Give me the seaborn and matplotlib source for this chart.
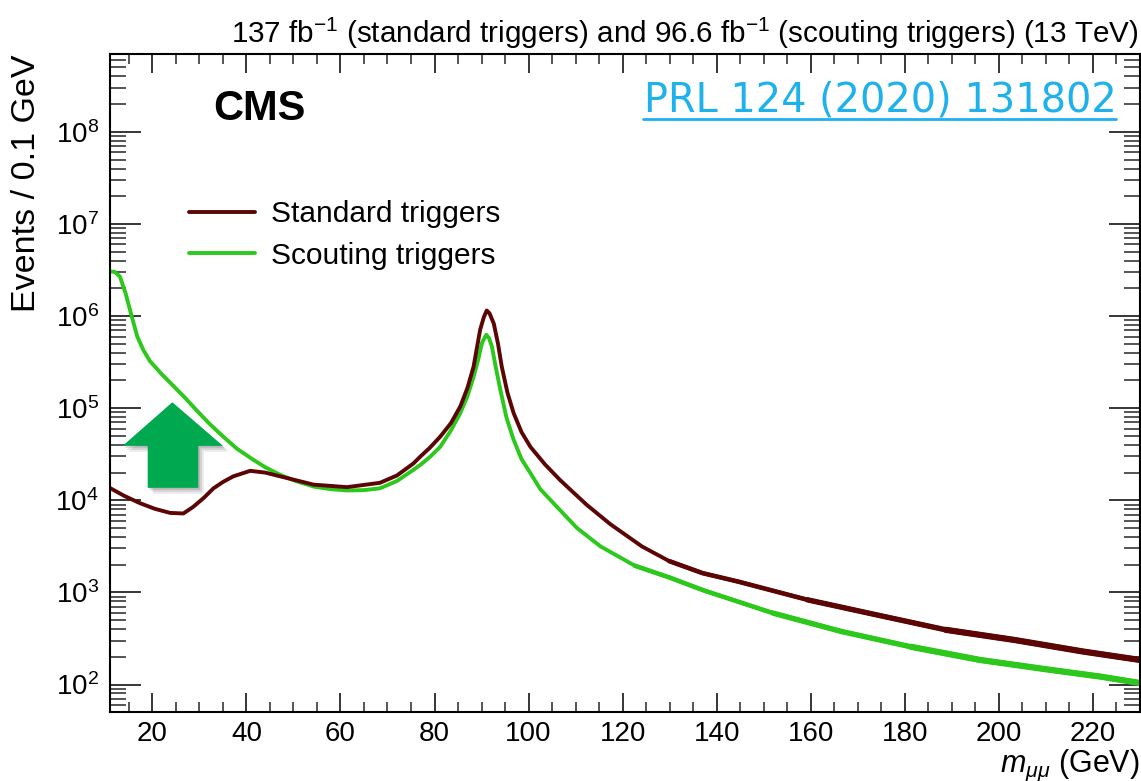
import numpy as np
import pandas as pd
import matplotlib
matplotlib.use("Agg")
import matplotlib.pyplot as plt
import seaborn as sns
from matplotlib.ticker import MultipleLocator, FixedLocator, LogLocator, FuncFormatter, NullFormatter
from matplotlib.patches import Polygon
from matplotlib.lines import Line2D

# ---------------- data ----------------
mass_std = [11, 14, 17.4, 20.5, 23.8, 26.6, 28.7, 31, 33, 35, 37.2, 40.8, 44, 47.2,
            54.3, 61.4, 68.4, 72, 75.5, 77, 79, 81.2, 83.5, 85.5, 87, 88.3, 89.7,
            90.5, 91.1, 91.7, 92.6, 93.5, 94.3, 95.5, 96.8, 98.5, 100.4, 103.5, 106.7,
            109.5, 112.4, 117.4, 124.1, 129.9, 137, 144.6, 159.3, 174, 188.7, 203.3,
            218, 230]
events_std = [1.36e4, 1.12e4, 9.3e3, 8.1e3, 7.3e3, 7.2e3, 8.5e3, 1.07e4, 1.35e4, 1.58e4,
              1.82e4, 2.09e4, 2.0e4, 1.82e4, 1.48e4, 1.39e4, 1.55e4, 1.86e4, 2.51e4,
              2.99e4, 3.72e4, 4.9e4, 6.9e4, 1.05e5, 1.66e5, 2.82e5, 7.1e5, 9.8e5,
              1.15e6, 1.07e6, 8.3e5, 5.0e5, 2.82e5, 1.48e5, 8.9e4, 5.5e4, 3.8e4, 2.45e4,
              1.66e4, 1.22e4, 8.9e3, 5.5e3, 3.16e3, 2.19e3, 1.62e3, 1.31e3, 832, 571,
              393, 305, 228, 185]

mass_sct = [11, 12, 13.1, 14.3, 15.6, 16.8, 18.1, 19.5, 22, 24.5, 27, 29.4, 32, 35.1,
            38, 41.5, 44, 47.2, 50.5, 54.3, 58, 61.4, 65, 68.4, 72, 75.5, 77, 79,
            81.2, 83.5, 85.5, 87, 88.3, 89.3, 90.1, 91, 91.6, 92.2, 93, 94, 95.3,
            96.8, 98.5, 100.4, 102.5, 105.3, 110.3, 115.3, 122.6, 130, 137.3, 152,
            166.6, 181.3, 196, 210.7, 221.6, 230]
events_sct = [3.05e6, 3.02e6, 2.69e6, 1.78e6, 1.0e6, 6.0e5, 4.27e5, 3.24e5, 2.34e5,
              1.74e5, 1.29e5, 9.5e4, 6.9e4, 4.9e4, 3.63e4, 2.75e4, 2.29e4, 1.89e4,
              1.62e4, 1.41e4, 1.32e4, 1.28e4, 1.29e4, 1.35e4, 1.62e4, 2.14e4,
              2.43e4, 2.95e4, 3.8e4, 5.75e4, 8.9e4, 1.35e5, 2.19e5, 3.39e5, 5.13e5,
              6.27e5, 5.75e5, 4.68e5, 2.82e5, 1.58e5, 7.9e4, 4.57e4, 2.8e4, 1.97e4,
              1.32e4, 9.3e3, 5.0e3, 3.16e3, 1.95e3, 1.45e3, 1.05e3, 596, 376, 257,
              185, 145, 122, 104]

series_labels = ["Standard triggers", "Scouting triggers"]
x_ticks = [20, 40, 60, 80, 100, 120, 140, 160, 180, 200, 220]
y_ticks = [1e2, 1e3, 1e4, 1e5, 1e6, 1e7, 1e8]

col_std = "#5c0505"
col_sct = "#2cc81c"

# ---------------- style ----------------
sns.set_theme(style="ticks")
plt.rcParams["font.family"] = ["Liberation Sans", "DejaVu Sans"]
plt.rcParams["mathtext.fontset"] = "custom"
plt.rcParams["mathtext.rm"] = "Liberation Sans"
plt.rcParams["mathtext.it"] = "Liberation Sans:italic"
plt.rcParams["mathtext.bf"] = "Liberation Sans:bold"
plt.rcParams["text.color"] = "black"
plt.rcParams["axes.labelcolor"] = "black"

W, H = 1141, 781
fig = plt.figure(figsize=(W / 100, H / 100), dpi=100)
ax = fig.add_axes([110 / W, 1 - 712.3 / H, 1030 / W, 658.3 / H])

df_std = pd.DataFrame({"mass": mass_std, "events": events_std})
df_sct = pd.DataFrame({"mass": mass_sct, "events": events_sct})

sns.lineplot(data=df_sct, x="mass", y="events", color=col_sct, lw=2.8,
             estimator=None, ax=ax, label=series_labels[1])
sns.lineplot(data=df_std, x="mass", y="events", color=col_std, lw=2.8,
             estimator=None, ax=ax, label=series_labels[0])
# tails look progressively thicker (bin-to-bin fluctuations)
for mmin, lw in [(125, 3.3), (150, 3.9), (180, 4.5)]:
    sns.lineplot(data=df_sct[df_sct.mass >= mmin - 5], x="mass", y="events",
                 color=col_sct, lw=lw, estimator=None, ax=ax, legend=False)
for mmin, lw in [(125, 3.3), (150, 3.9), (180, 4.5)]:
    sns.lineplot(data=df_std[df_std.mass >= mmin], x="mass", y="events",
                 color=col_std, lw=lw, estimator=None, ax=ax, legend=False)

ax.set_yscale("log")
ax.set_xlim(11, 230)
ax.set_ylim(50, 7e8)

ax.xaxis.set_major_locator(FixedLocator(x_ticks))
ax.xaxis.set_minor_locator(MultipleLocator(5))
ax.yaxis.set_major_locator(FixedLocator(y_ticks))
ax.yaxis.set_minor_locator(LogLocator(base=10, subs=np.arange(2, 10), numticks=30))
ax.yaxis.set_major_formatter(FuncFormatter(lambda v, p: r"$10^{%d}$" % round(np.log10(v))))
ax.yaxis.set_minor_formatter(NullFormatter())

ax.tick_params(axis="x", which="major", direction="in", length=13.5, width=1.1,
               top=True, bottom=True, labelsize=20, pad=6, color="black", labelcolor="black")
ax.tick_params(axis="x", which="minor", direction="in", length=7, width=1.1,
               top=True, bottom=True)
ax.tick_params(axis="y", which="major", direction="in", length=22, width=1.1,
               left=True, right=True, labelsize=20, pad=8, color="black", labelcolor="black")
ax.tick_params(axis="y", which="minor", direction="in", length=11.5, width=1.1,
               left=True, right=True)
for s in ax.spines.values():
    s.set_linewidth(1.5)
    s.set_color("black")
    s.set_visible(True)

ax.set_ylabel("Events / 0.1 GeV", fontsize=24.5, loc="top", color="black")
ax.yaxis.set_label_coords(-0.066, 1.0)
ax.set_xlabel(r"$m_{\mu\mu}$ (GeV)", fontsize=22, loc="right", color="black")
ax.xaxis.set_label_coords(1.0, -0.053)

# legend
h, l = ax.get_legend_handles_labels()
order = [l.index(series_labels[0]), l.index(series_labels[1])]
leg = ax.legend([h[i] for i in order], [l[i] for i in order], loc="center left",
                bbox_to_anchor=(0.077, 0.725), frameon=False, fontsize=21.5,
                handlelength=2.2, handletextpad=0.55, labelspacing=0.45, borderpad=0,
                borderaxespad=0, labelcolor="black")

# texts
fig.text(1138 / W, 1 - 43 / H,
         r"137 fb$^{\mathregular{-1}}$ (standard triggers) and 96.6 fb$^{\mathregular{-1}}$ (scouting triggers) (13 TeV)",
         ha="right", va="baseline", fontsize=21.3, color="black")
ax.text(0.100, 0.900, "CMS", transform=ax.transAxes, fontsize=30, fontweight="bold",
        ha="left", va="baseline", color="black")
ax.text(0.977, 0.912, "PRL 124 (2020) 131802", transform=ax.transAxes, fontsize=28.7,
        fontfamily="DejaVu Sans", fontweight="normal", color="#1eb1ec",
        ha="right", va="baseline")
ax.add_line(Line2D([0.5175, 0.977], [0.902, 0.902], transform=ax.transAxes,
                   color="#1eb1ec", lw=2))

# green arrow (annotation) with soft shadow, in axes coordinates
arrow = [(0.0605, 0.471), (0.1097, 0.4047), (0.0857, 0.4047), (0.0857, 0.341),
         (0.0366, 0.341), (0.0366, 0.4047), (0.0123, 0.4047)]
for k, a in [(3, 0.12), (2, 0.15), (1, 0.2)]:
    sh = [(px + 0.0018 * k, py - 0.003 * k) for px, py in arrow]
    ax.add_patch(Polygon(sh, closed=True, transform=ax.transAxes,
                         facecolor="#555555", edgecolor="none", alpha=a, zorder=4))
ax.add_patch(Polygon(arrow, closed=True, transform=ax.transAxes,
                     facecolor="#00a84f", edgecolor="none", zorder=5))

fig.savefig("out.png", dpi=100)
